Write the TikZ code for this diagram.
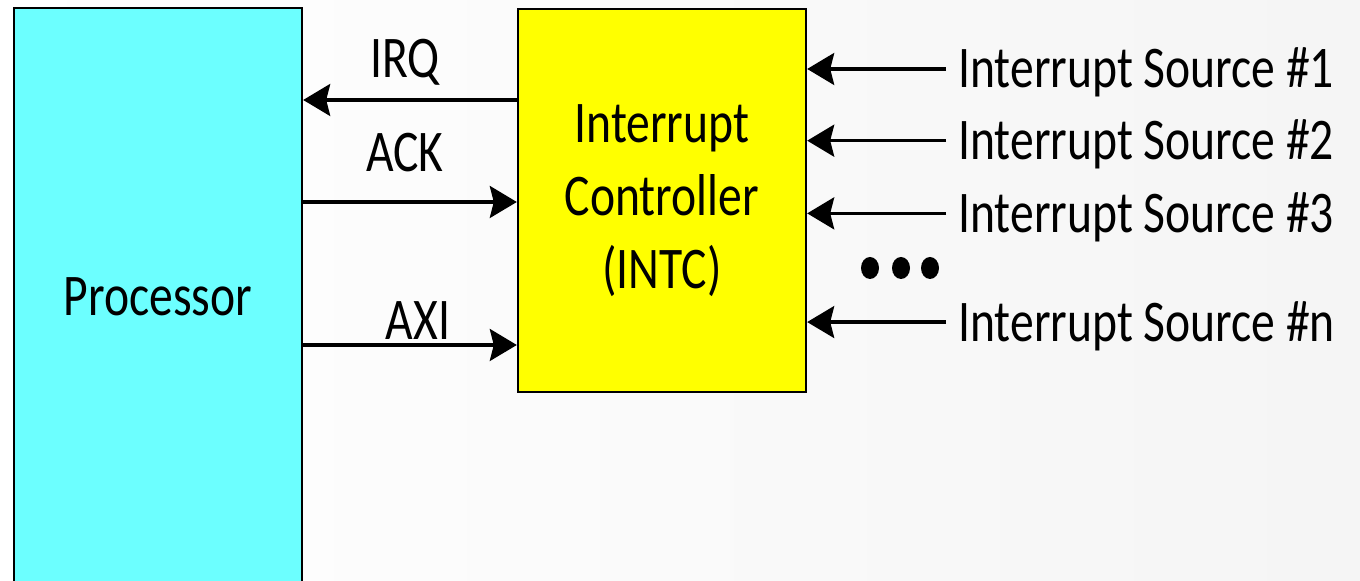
\documentclass[tikz,border=0pt]{standalone}
\usepackage{fontspec}
\setmainfont{Carlito}
\usepackage{graphicx}
\usetikzlibrary{arrows.meta, positioning}
\definecolor{procCyan}{RGB}{108,255,255}
\definecolor{intcYellow}{RGB}{255,255,0}
\newcommand{\bigfont}{\fontsize{27.1pt}{33.5pt}\selectfont}
\newcommand{\tallt}[1]{\scalebox{1}[1.24]{#1}}

\begin{document}
\begin{tikzpicture}[x=0.02cm, y=0.02cm,
    block/.style={rectangle, draw=black, line width=1.4pt, align=center, inner sep=0pt, font=\bigfont},
    sig/.style={line width=1.8pt, -{Stealth[length=0.54cm, width=0.64cm, inset=0.08cm]}},
    srclabel/.style={anchor=west, font=\bigfont, text height=0.76cm, text depth=0pt, inner xsep=0.24cm, inner ysep=0pt},
    buslabel/.style={anchor=base, font=\bigfont, inner sep=0pt}
]
\clip (0,0) rectangle (1360,581);
\shade[left color=white, right color=black!4] (0,0) rectangle (1360,581);

\node[block, fill=procCyan, minimum width=5.76cm, minimum height=11.54cm] (proc) at (158,284.5) {\tallt{Processor}};
\node[block, fill=intcYellow, minimum width=5.76cm, minimum height=7.66cm] (intc) at (662,380.5)
    {\tallt{\begin{tabular}{@{}c@{}}Interrupt\\Controller\\(INTC)\end{tabular}}};

% processor <-> controller
\coordinate (irq) at (0,481);
\coordinate (ack) at (0,379);
\coordinate (axi) at (0,236);
\draw[sig] (intc.west |- irq) -- (proc.east |- irq);
\draw[sig] (proc.east |- ack) -- (intc.west |- ack);
\draw[sig] (proc.east |- axi) -- (intc.west |- axi);
\node[buslabel] (irqlbl) at (405,503) {\tallt{IRQ}};
\node[buslabel] (acklbl) at (405,409) {\tallt{ACK}};
\node[buslabel] (axilbl) at (418,241) {\tallt{AXI}};

% interrupt sources
\node[srclabel] (s1) at (946,512) {\tallt{Interrupt Source \#1}};
\node[srclabel, below=0.66cm of s1.south west, anchor=north west] (s2) {\tallt{Interrupt Source \#2}};
\node[srclabel, below=0.68cm of s2.south west, anchor=north west] (s3) {\tallt{Interrupt Source \#3}};
\node[srclabel, below=1.40cm of s3.south west, anchor=north west] (sn) {\tallt{Interrupt Source \#n}};
\foreach \s in {s1,s2,s3,sn}
    \draw[sig] (\s.west) -- (\s.west -| intc.east);
\foreach \dx in {870,901,930}
    \fill (\dx,313) ellipse [x radius=9, y radius=11];
\end{tikzpicture}
\end{document}
